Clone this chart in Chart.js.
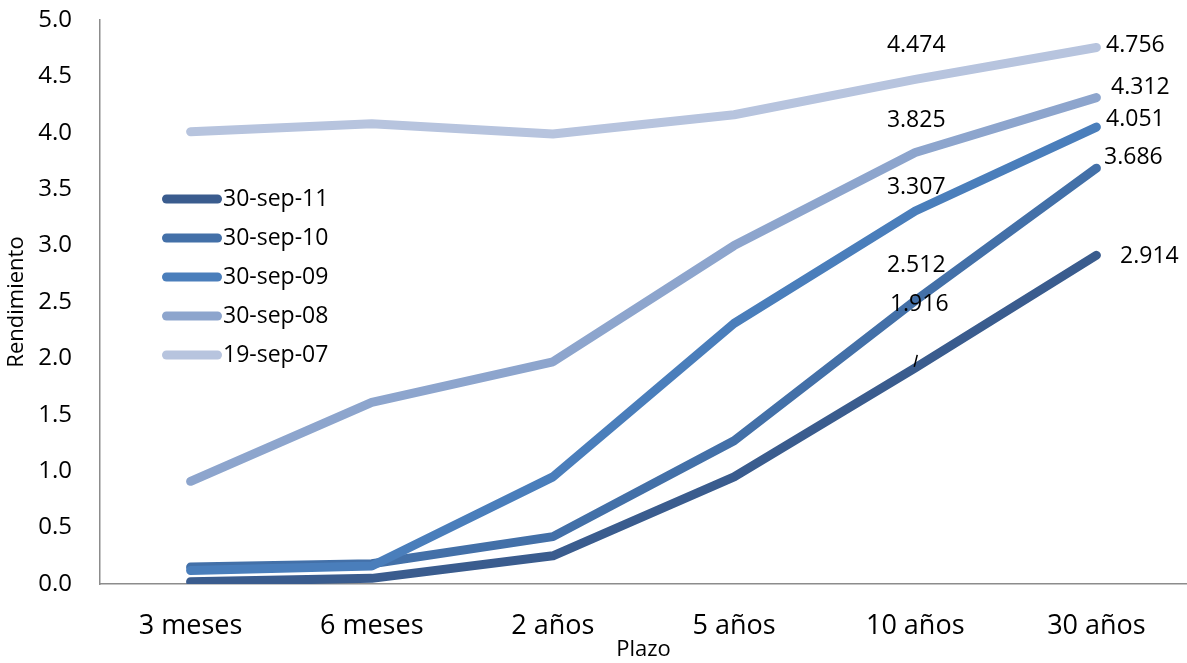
<!DOCTYPE html>
<html>
<head>
<meta charset="utf-8">
<script src="https://cdn.jsdelivr.net/npm/chart.js@4/dist/chart.umd.min.js"></script>
<style>
html,body{margin:0;padding:0;background:#fff;}
#wrap{width:1187px;height:663px;position:relative;}
</style>
</head>
<body>
<div id="wrap"><canvas id="c" width="1187" height="663"></canvas></div>
<script>
const categories = ["3 meses","6 meses","2 años","5 años","10 años","30 años"];
const seriesNames = ["30-sep-11","30-sep-10","30-sep-09","30-sep-08","19-sep-07"];
const s2011 = [0.02, 0.05, 0.25, 0.95, 1.916, 2.914];
const s2010 = [0.15, 0.18, 0.42, 1.27, 2.512, 3.686];
const s2009 = [0.12, 0.16, 0.95, 2.31, 3.307, 4.051];
const s2008 = [0.91, 1.61, 1.97, 3.00, 3.825, 4.312];
const s2007 = [4.01, 4.08, 3.99, 4.16, 4.474, 4.756];
const yTicks = [0.0,0.5,1.0,1.5,2.0,2.5,3.0,3.5,4.0,4.5,5.0];
const labeledIdx = [4,5];

const colors = ["#3A5C8E","#4370A8","#4A7EBB","#8DA5CD","#B7C4DE"];
const values = [s2011,s2010,s2009,s2008,s2007];
const FONT = "'Open Sans', sans-serif";

// label offsets [dx,dy] for each series at 10 años and 30 años
const labelOffsets = [
  [[4,-63],[53,1]],
  [[1,-35],[37,-11]],
  [[1,-24],[39,-8]],
  [[1,-32],[44,-10]],
  [[1,-34],[39,-2]]
];

const datasets = seriesNames.map((n,i)=>({
  label:n,
  data:values[i],
  borderColor:colors[i],
  backgroundColor:colors[i],
  borderWidth:9,
  borderCapStyle:'round',
  borderJoinStyle:'round',
  pointRadius:0,
  tension:0,
  fill:false,
  order:5-i
}));

const labelsPlugin = {
  id:'customLabels',
  afterDatasetsDraw(chart){
    const ctx = chart.ctx;
    ctx.save();
    ctx.font = "23px " + FONT;
    ctx.fillStyle = "#000";
    ctx.textAlign = "center";
    ctx.textBaseline = "middle";
    chart.data.datasets.forEach((ds,i)=>{
      const meta = chart.getDatasetMeta(i);
      labeledIdx.forEach((idx,k)=>{
        const pt = meta.data[idx];
        const off = labelOffsets[i][k];
        ctx.fillText(ds.data[idx].toFixed(3), pt.x+off[0], pt.y+off[1]);
        if(i===0 && k===0){
          ctx.beginPath();
          ctx.lineWidth=1.5;
          ctx.strokeStyle="#000";
          ctx.moveTo(pt.x-1, pt.y-1);
          ctx.lineTo(pt.x+2, pt.y-13);
          ctx.stroke();
        }
      });
    });
    // legend
    const lx0 = 166.5, lx1 = 217.5, ty = [199,238,277,316,355];
    chart.data.datasets.forEach((ds,i)=>{
      ctx.beginPath();
      ctx.lineWidth = 9;
      ctx.lineCap = 'round';
      ctx.strokeStyle = ds.borderColor;
      ctx.moveTo(lx0, ty[i]); ctx.lineTo(lx1, ty[i]);
      ctx.stroke();
      ctx.textAlign = "left";
      ctx.fillStyle = "#000";
      ctx.fillText(ds.label, 223, ty[i]);
    });
    ctx.restore();
  }
};

new Chart(document.getElementById('c'),{
  type:'line',
  data:{labels:categories, datasets},
  options:{
    responsive:false,
    animation:false,
    layout:{padding:{top:20,right:0,bottom:0,left:0}},
    plugins:{legend:{display:false},tooltip:{enabled:false}},
    scales:{
      x:{
        offset:true,
        grid:{display:false},
        border:{display:true,color:'#8C8C8C',width:1.5},
        ticks:{color:'#000',font:{family:FONT,size:27},padding:18,maxRotation:0},
        title:{display:true,text:'Plazo',color:'#000',font:{family:FONT,size:22},padding:{top:0,bottom:0}},
        afterFit(s){s.height=79;}
      },
      y:{
        min:0,max:5,
        afterBuildTicks(s){s.ticks = yTicks.map(v=>({value:v}));},
        grid:{display:false},
        border:{display:true,color:'#8C8C8C',width:1.5},
        ticks:{color:'#000',font:{family:FONT,size:24},padding:20,callback:v=>Number(v).toFixed(1)},
        title:{display:true,text:'Rendimiento',color:'#000',font:{family:FONT,size:22},padding:{top:4,bottom:0}},
        afterFit(s){s.width=100; s.paddingTop=0; s.paddingBottom=0;}
      }
    }
  },
  plugins:[labelsPlugin]
});
</script>
</body>
</html>
